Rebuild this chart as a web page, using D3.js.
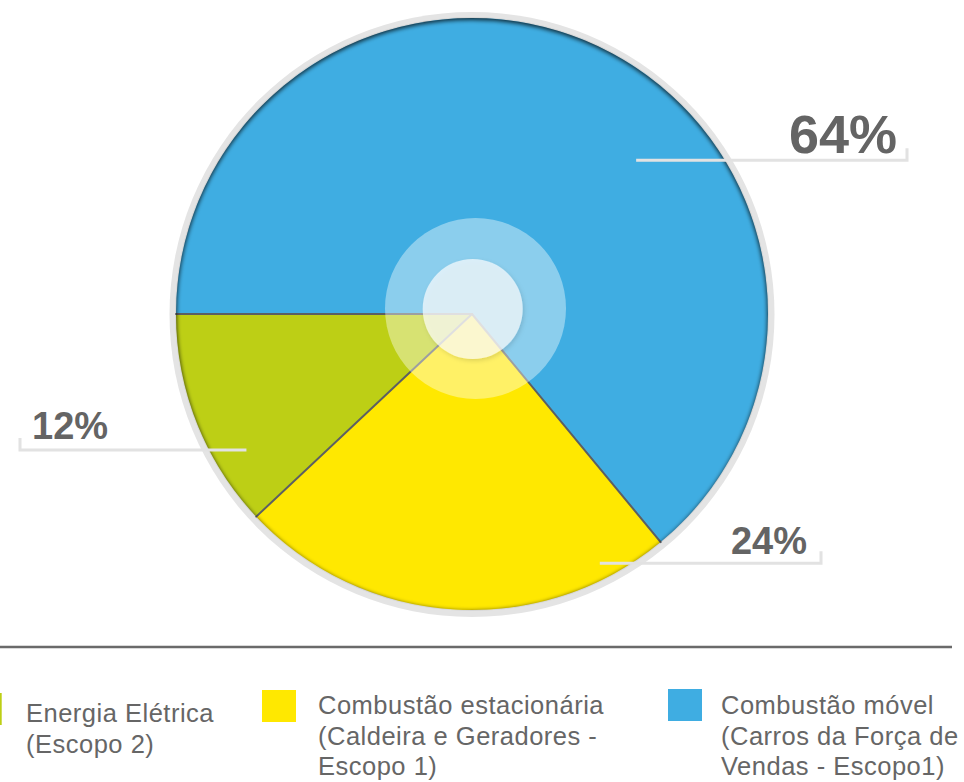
<!DOCTYPE html>
<html>
<head>
<meta charset="utf-8">
<script src="https://cdn.jsdelivr.net/npm/d3@7"></script>
<style>
  html, body { margin: 0; padding: 0; background: #fff; }
  svg { display: block; }
</style>
</head>
<body>
<svg id="chart" width="964" height="782"></svg>
<script>
// ---- data ----
const categories = ["Combustão móvel", "Combustão estacionária", "Energia Elétrica"];
const values = [64, 24, 12];
const valueLabels = ["64%", "24%", "12%"];
const colors = ["#3FADE2", "#FFE800", "#BDCF15"];
const legendOrder = [2, 1, 0];
const legendLines = [
  ["Combustão móvel", "(Carros da Força de", "Vendas - Escopo1)"],
  ["Combustão estacionária", "(Caldeira e Geradores -", "Escopo 1)"],
  ["Energia Elétrica", "(Escopo 2)"]
];

// ---- layout ----
const W = 964, H = 782;
const cx = 472, cy = 314, R = 296;
const svg = d3.select("#chart");
const defs = svg.append("defs");

defs.append("clipPath").attr("id", "pieClip")
  .append("circle").attr("cx", cx).attr("cy", cy).attr("r", R);
defs.append("filter").attr("id", "blur3").attr("x", "-10%").attr("y", "-10%").attr("width", "120%").attr("height", "120%")
  .append("feGaussianBlur").attr("stdDeviation", 2);
const ds = defs.append("filter").attr("id", "dshadow").attr("x", "-30%").attr("y", "-30%").attr("width", "160%").attr("height", "160%");
ds.append("feDropShadow").attr("dx", 1.5).attr("dy", 2).attr("stdDeviation", 2).attr("flood-color", "#000").attr("flood-opacity", 0.18);

const pie = d3.pie().sort(null).value(d => d).startAngle(-Math.PI / 2).endAngle(1.5 * Math.PI);
const arcs = pie(values);
const arc = d3.arc().innerRadius(0).outerRadius(R);

// outer grey ring
svg.append("circle").attr("cx", cx).attr("cy", cy + 0.5).attr("r", R + 6.5)
  .attr("fill", "#e4e4e4");
svg.append("circle").attr("cx", cx).attr("cy", cy).attr("r", R + 1)
  .attr("fill", "#d6d6d6");

const g = svg.append("g").attr("transform", `translate(${cx},${cy})`);
g.selectAll("path.slice").data(arcs).enter().append("path")
  .attr("class", "slice")
  .attr("d", arc)
  .attr("fill", (d, i) => colors[i]);

// slice separators (radial lines only)
g.selectAll("line.sep").data(arcs).enter().append("line")
  .attr("class", "sep")
  .attr("x1", 0).attr("y1", 0)
  .attr("x2", d => R * Math.sin(d.startAngle))
  .attr("y2", d => -R * Math.cos(d.startAngle))
  .attr("stroke", "#5c5f63")
  .attr("stroke-width", 2)
  .attr("stroke-linecap", "round");

// inner rim shadow
svg.append("g").attr("clip-path", "url(#pieClip)")
  .append("circle").attr("cx", cx).attr("cy", cy + 1.5).attr("r", R + 5)
  .attr("fill", "none").attr("stroke", "#000").attr("stroke-opacity", 0.75)
  .attr("stroke-width", 11).attr("filter", "url(#blur3)");

// center highlights
svg.append("circle").attr("cx", cx + 3.5).attr("cy", cy - 5.5).attr("r", 90.5)
  .attr("fill", "#fff").attr("fill-opacity", 0.4);
svg.append("circle").attr("cx", cx + 0.7).attr("cy", cy - 5).attr("r", 50)
  .attr("fill", "#fff").attr("fill-opacity", 0.68).attr("filter", "url(#dshadow)");

// ---- value labels with leader lines ----
const labelLayout = [
  { t: 0.594, rf: 0.76, endX: 907, side: "right", size: 54, tx: 897, dy: -7 },
  { t: 0.144, rf: 0.946, endX: 821, side: "right", size: 38, tx: 807, dy: -9 },
  { t: 0.28, rf: 0.89, endX: 20, side: "left", size: 38, tx: 32, dy: -11 }
];
const lab = svg.append("g");
arcs.forEach((d, i) => {
  const L = labelLayout[i];
  const a = d.startAngle + L.t * (d.endAngle - d.startAngle);
  const r = L.rf * R;
  const x0 = cx + r * Math.sin(a);
  const y0 = cy - r * Math.cos(a);
  lab.append("path")
    .attr("d", `M${x0},${y0}H${L.endX}V${y0 - 12}`)
    .attr("fill", "none").attr("stroke", "#e2e2e2").attr("stroke-width", 3);
  lab.append("text")
    .attr("x", L.tx).attr("y", y0 + L.dy)
    .attr("text-anchor", L.side === "right" ? "end" : "start")
    .attr("font-family", "'Liberation Sans', Arial, Helvetica, sans-serif")
    .attr("font-weight", "bold")
    .attr("font-size", L.size)
    .attr("fill", "#646464")
    .text(valueLabels[i]);
});

// ---- separator line ----
svg.append("line").attr("x1", 0).attr("x2", 952).attr("y1", 647).attr("y2", 647)
  .attr("stroke", "#6a6a6a").attr("stroke-width", 2.5);

// ---- legend ----
const legendLayout = [
  { sx: -32.3, sy: 693, tx: 26, ty: 722 },
  { sx: 262, sy: 690, tx: 318, ty: 714 },
  { sx: 668, sy: 689, tx: 721, ty: 714 }
];
const leg = svg.append("g");
legendOrder.forEach((ci, k) => {
  const L = legendLayout[k];
  leg.append("rect").attr("x", L.sx).attr("y", L.sy).attr("width", 34).attr("height", 32)
    .attr("fill", colors[ci]);
  const t = leg.append("text")
    .attr("font-family", "'Liberation Sans', Arial, Helvetica, sans-serif")
    .attr("font-size", 25.5)
    .attr("letter-spacing", 0.5)
    .attr("fill", "#666");
  legendLines[ci].forEach((line, j) => {
    t.append("tspan").attr("x", L.tx).attr("y", L.ty + j * 30.5).text(line);
  });
});
</script>
</body>
</html>
